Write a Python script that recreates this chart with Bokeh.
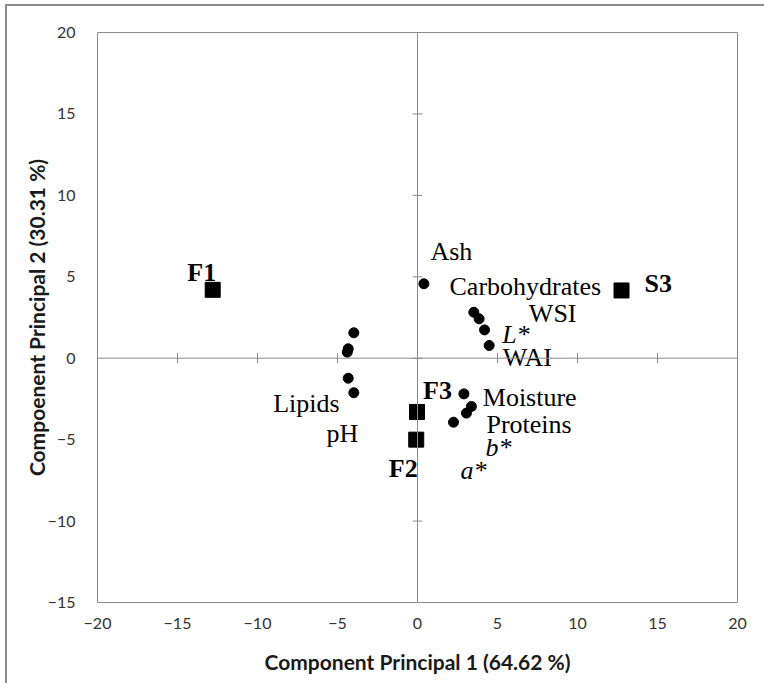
from bokeh.plotting import figure
from bokeh.models import Span, FixedTicker
from bokeh.core.properties import value
from bokeh.embed import file_html
from bokeh.resources import INLINE

# ---- data ----
x_ticks = [-20, -15, -10, -5, 0, 5, 10, 15, 20]
y_ticks = [-15, -10, -5, 0, 5, 10, 15, 20]

var_x = [0.4, 3.52, 3.85, 4.19, 4.48, -3.98, -4.33, -4.39, -4.33, -3.98, 2.9, 3.37, 3.06, 2.25]
var_y = [4.57, 2.82, 2.42, 1.74, 0.78, 1.56, 0.58, 0.37, -1.23, -2.12, -2.19, -2.96, -3.37, -3.93]

sample_names = ["F1", "S3", "F3", "F2"]
sample_x = [-12.8, 12.75, -0.03, -0.08]
sample_y = [4.2, 4.16, -3.3, -5.0]
sample_lx = [-14.39, 14.19, 0.35, -1.79]
sample_ly = [5.28, 4.57, -1.98, -6.79]

var_names = ["Ash", "Carbohydrates", "WSI", "WAI", "Moisture", "Proteins", "Lipids", "pH"]
var_lx = [0.81, 2.0, 6.96, 5.33, 4.08, 4.31, -9.02, -5.69]
var_ly = [6.57, 4.42, 2.76, 0.02, -2.39, -4.07, -2.8, -4.64]

ital_names = ["L*", "b*", "a*"]
ital_lx = [5.29, 4.25, 2.69]
ital_ly = [1.43, -5.46, -6.89]

x_title = "Component Principal 1 (64.62 %)"
y_title = "Compoenent Principal 2 (30.31 %)"

GRAY = "#8c8c8c"

p = figure(width=764, height=683, x_range=(-20, 20), y_range=(-15, 20),
           output_backend="svg", toolbar_location=None,
           min_border_left=97, min_border_right=27, min_border_top=32, min_border_bottom=81,
           styles={"background": "linear-gradient(#8c8c8c,#8c8c8c) 5px 4px / 2px 100% no-repeat, "
                                 "linear-gradient(#8c8c8c,#8c8c8c) 5px 4px / 100% 2px no-repeat, white"})
p.grid.visible = False
p.outline_line_color = GRAY
p.outline_line_width = 1
p.background_fill_color = "white"
p.border_fill_color = None

for ax in (p.xaxis[0], p.yaxis[0]):
    ax.axis_line_color = None
    ax.major_tick_line_color = None
    ax.minor_tick_line_color = None
    ax.major_label_text_font = "Lato"
    ax.major_label_text_font_size = "16px"
    ax.major_label_text_color = "#333333"
    ax.axis_label_text_font = "Lato"
    ax.axis_label_text_font_size = "21px"
    ax.axis_label_text_font_style = "bold"
    ax.axis_label_text_color = "#1a1a1a"

p.xaxis.ticker = FixedTicker(ticks=x_ticks)
p.yaxis.ticker = FixedTicker(ticks=y_ticks)
p.xaxis.axis_label = x_title
p.yaxis.axis_label = y_title
p.xaxis.major_label_standoff = 9
p.xaxis.axis_label_standoff = 17
p.yaxis.major_label_standoff = 16
p.yaxis.axis_label_standoff = -4

# zero axes
p.add_layout(Span(location=0, dimension="width", line_color=GRAY, line_width=1))
p.add_layout(Span(location=0, dimension="height", line_color=GRAY, line_width=1))

# cross tick marks on the zero axes
xt = [t for t in x_ticks if t not in (-20, 20)]
yt = [t for t in y_ticks if t not in (-15, 20)]
p.segment(x0=xt, x1=xt, y0=[-0.3] * len(xt), y1=[0.3] * len(xt), line_color=GRAY, line_width=1)
p.segment(x0=[-0.3] * len(yt), x1=[0.3] * len(yt), y0=yt, y1=yt, line_color=GRAY, line_width=1)

# points
p.scatter(var_x, var_y, marker="circle", size=10, fill_color="black", line_color="black")
p.scatter(sample_x, sample_y, marker="square", size=15, fill_color="black", line_color="black")

serif = value("Liberation Serif")
p.text(x=var_lx, y=var_ly, text=var_names, text_font=serif, text_font_size="26px",
       text_baseline="alphabetic", text_align="left", text_color="black")
p.text(x=ital_lx, y=ital_ly, text=ital_names, text_font=serif, text_font_size="26px",
       text_font_style="italic", text_baseline="alphabetic", text_align="left", text_color="black")
p.text(x=sample_lx, y=sample_ly, text=sample_names, text_font=serif, text_font_size="26px",
       text_font_style="bold", text_baseline="alphabetic", text_align="left", text_color="black")

open("out.html", "w").write(file_html(p, INLINE))
